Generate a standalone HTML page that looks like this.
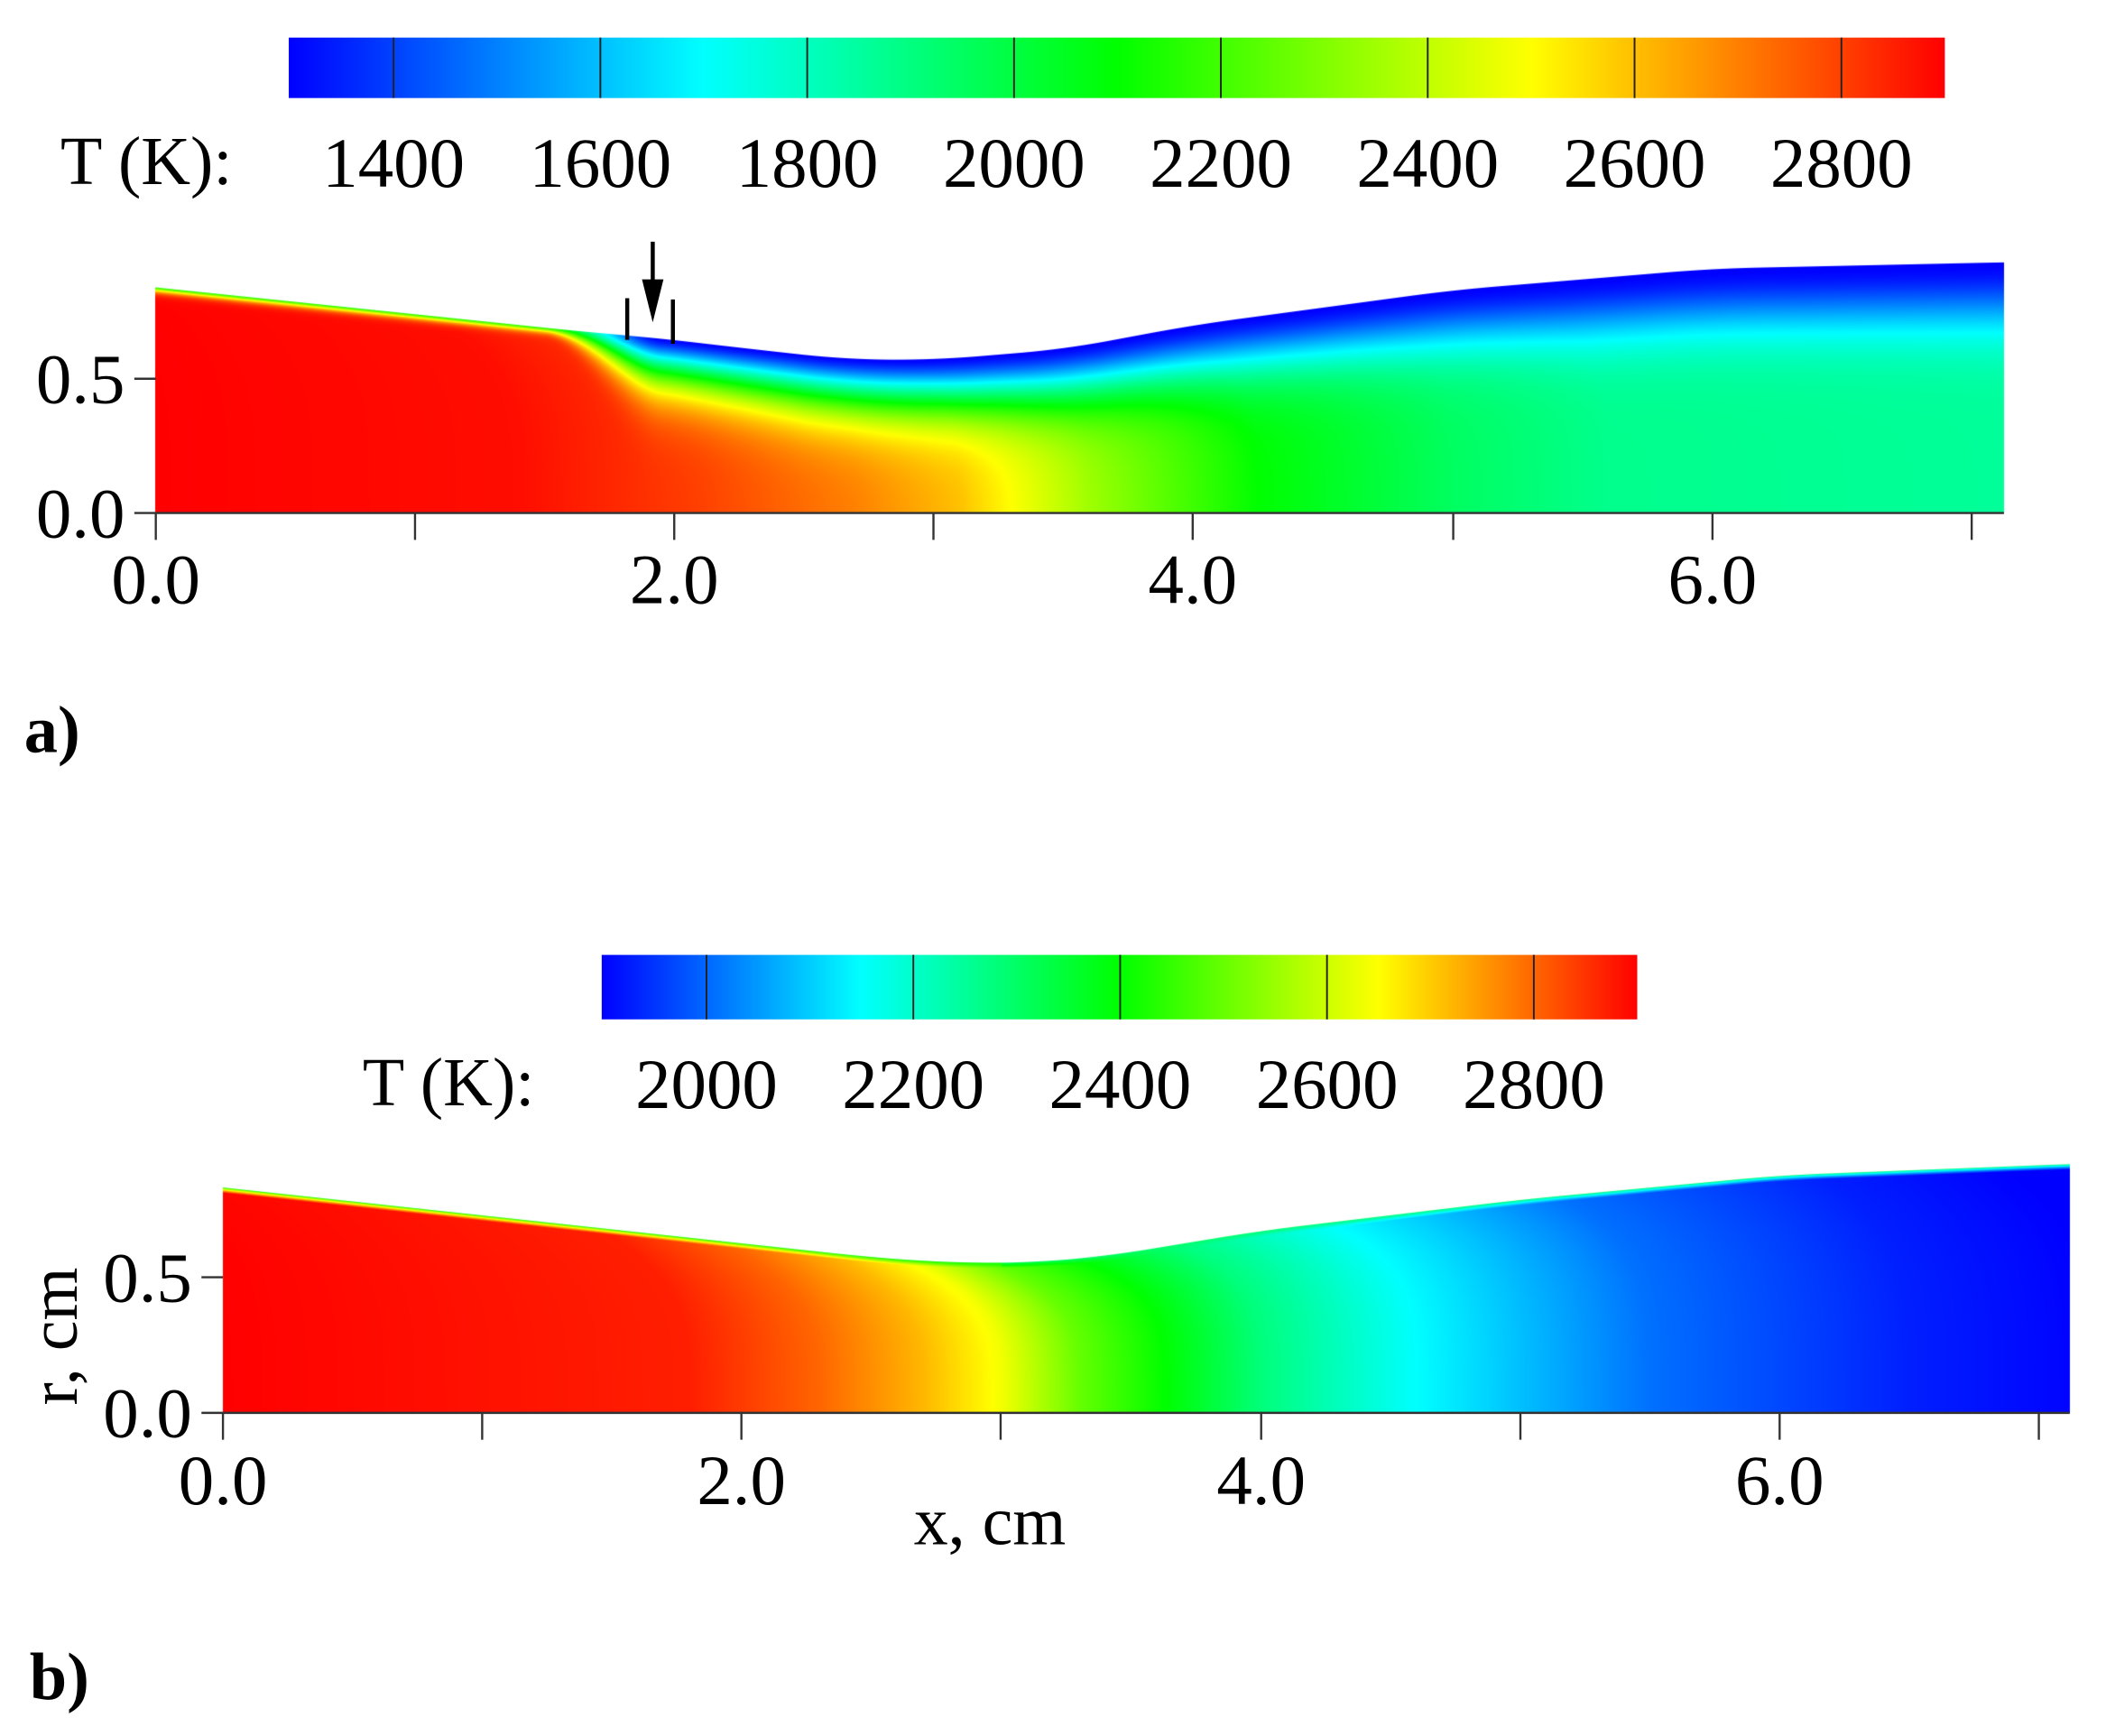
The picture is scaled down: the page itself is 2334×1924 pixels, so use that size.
<!DOCTYPE html>
<html><head><meta charset="utf-8">
<style>
html,body{margin:0;padding:0;background:#fff;}
#wrap{position:relative;width:2334px;height:1924px;overflow:hidden;}
canvas,svg{position:absolute;left:0;top:0;}
text{font-family:"Liberation Serif",serif;fill:#000;}
</style></head><body>
<div id="wrap">
<canvas id="c" width="2334" height="1924"></canvas>
<svg width="2334" height="1924" viewBox="0 0 1568 1292.6" preserveAspectRatio="none">
<defs>
<linearGradient id="cm" x1="0" x2="1" y1="0" y2="0">
<stop offset="0" stop-color="#0000ff"/><stop offset="0.25" stop-color="#00ffff"/>
<stop offset="0.5" stop-color="#00ff00"/><stop offset="0.75" stop-color="#ffff00"/>
<stop offset="1" stop-color="#ff0000"/></linearGradient>
</defs>
<rect x="215" y="28" width="1233" height="45" fill="url(#cm)"/>
<g stroke="#222" stroke-width="1.3">
<line x1="293" y1="28" x2="293" y2="73"/><line x1="447" y1="28" x2="447" y2="73"/>
<line x1="601" y1="28" x2="601" y2="73"/><line x1="755" y1="28" x2="755" y2="73"/>
<line x1="909" y1="28" x2="909" y2="73"/><line x1="1063" y1="28" x2="1063" y2="73"/>
<line x1="1217" y1="28" x2="1217" y2="73"/><line x1="1371" y1="28" x2="1371" y2="73"/>
</g>
<g font-size="53" text-anchor="middle">
<text x="293" y="139">1400</text><text x="447" y="139">1600</text><text x="601" y="139">1800</text>
<text x="755" y="139">2000</text><text x="909" y="139">2200</text><text x="1063" y="139">2400</text>
<text x="1217" y="139">2600</text><text x="1371" y="139">2800</text>
</g>
<text x="45" y="137" font-size="51">T (K):</text>
<g stroke="#333" stroke-width="1.6">
<line x1="116" y1="382" x2="1492" y2="382"/>
<line x1="116" y1="382" x2="116" y2="402"/><line x1="309" y1="382" x2="309" y2="402"/>
<line x1="502" y1="382" x2="502" y2="402"/><line x1="695" y1="382" x2="695" y2="402"/>
<line x1="888" y1="382" x2="888" y2="402"/><line x1="1082" y1="382" x2="1082" y2="402"/>
<line x1="1275" y1="382" x2="1275" y2="402"/><line x1="1468" y1="382" x2="1468" y2="402"/>
<line x1="100" y1="382" x2="116" y2="382"/><line x1="100" y1="282" x2="116" y2="282"/>
</g>
<g font-size="53" text-anchor="middle">
<text x="116" y="449">0.0</text><text x="502" y="449">2.0</text><text x="888" y="449">4.0</text><text x="1275" y="449">6.0</text>
</g>
<g font-size="53" text-anchor="end">
<text x="93" y="300">0.5</text><text x="93" y="400">0.0</text>
</g>
<g stroke="#000" stroke-width="3">
<line x1="486" y1="180" x2="486" y2="215"/>
<line x1="467" y1="222" x2="467" y2="253"/><line x1="501" y1="223" x2="501" y2="256"/>
</g>
<polygon points="478,208 494,208 486,240" fill="#000"/>
<text x="18" y="560" font-size="50" font-weight="bold">a)</text>
<rect x="448" y="711" width="771" height="48" fill="url(#cm)"/>
<g stroke="#222" stroke-width="1.3">
<line x1="526" y1="711" x2="526" y2="759"/><line x1="680" y1="711" x2="680" y2="759"/>
<line x1="834" y1="711" x2="834" y2="759"/><line x1="988" y1="711" x2="988" y2="759"/>
<line x1="1142" y1="711" x2="1142" y2="759"/>
</g>
<g font-size="53" text-anchor="middle">
<text x="526" y="825">2000</text><text x="680" y="825">2200</text><text x="834" y="825">2400</text>
<text x="988" y="825">2600</text><text x="1142" y="825">2800</text>
</g>
<text x="270" y="823" font-size="51">T (K):</text>
<g stroke="#333" stroke-width="1.6">
<line x1="166" y1="1052" x2="1541" y2="1052"/>
<line x1="166" y1="1052" x2="166" y2="1072"/><line x1="359" y1="1052" x2="359" y2="1072"/>
<line x1="552" y1="1052" x2="552" y2="1072"/><line x1="745" y1="1052" x2="745" y2="1072"/>
<line x1="939" y1="1052" x2="939" y2="1072"/><line x1="1132" y1="1052" x2="1132" y2="1072"/>
<line x1="1325" y1="1052" x2="1325" y2="1072"/><line x1="1518" y1="1052" x2="1518" y2="1072"/>
<line x1="150" y1="1052" x2="166" y2="1052"/><line x1="150" y1="951" x2="166" y2="951"/>
</g>
<g font-size="53" text-anchor="middle">
<text x="166" y="1120">0.0</text><text x="552" y="1120">2.0</text><text x="939" y="1120">4.0</text><text x="1325" y="1120">6.0</text>
</g>
<g font-size="53" text-anchor="end">
<text x="143" y="969">0.5</text><text x="143" y="1070">0.0</text>
</g>
<text x="737" y="1150" font-size="51" text-anchor="middle">x, cm</text>
<text x="0" y="0" font-size="51" text-anchor="middle" transform="translate(57,995) rotate(-90)">r, cm</text>
<text x="22" y="1265" font-size="50" font-weight="bold">b)</text>
</svg>
</div>
<script>
(function(){
var S=2334/1568;
var cv=document.getElementById('c'),ctx=cv.getContext('2d');
var W=2334,H=1924;
var img=ctx.createImageData(W,H),d=img.data;
for(var i=0;i<d.length;i+=4){d[i]=255;d[i+1]=255;d[i+2]=255;d[i+3]=255;}
function cmap(t){t=Math.max(0,Math.min(1,t));var r,g,b;
 if(t<0.25){r=0;g=t/0.25;b=1;}else if(t<0.5){r=0;g=1;b=1-(t-0.25)/0.25;}
 else if(t<0.75){r=(t-0.5)/0.25;g=1;b=0;}else{r=1;g=1-(t-0.75)/0.25;b=0;}
 return [r*255,g*255,b*255];}
function interp(pts,x){if(x<=pts[0][0])return pts[0][1];
 for(var i=1;i<pts.length;i++){if(x<=pts[i][0]){var a=pts[i-1],b=pts[i];return a[1]+(b[1]-a[1])*(x-a[0])/(b[0]-a[0]);}}
 return pts[pts.length-1][1];}
function sinterp(pts,x){var s=0,n=0;for(var k=-4;k<=4;k++){s+=interp(pts,x+k*0.04);n++;}return s/n;}
function cl(v){return Math.max(0,Math.min(1,v));}
var wA=[[0,.84],[1.7,.67],[1.9,.655],[2.3,.61],[2.66,.572],[3.0,.57],[3.5,.61],[4,.70],[5,.83],[6,.91],[7.2,.935]];
function wallA(x){return x<1.5?interp(wA,x):sinterp(wA,x);}
var coreA=[[0,2900],[1.4,2880],[2.1,2800],[2.7,2700],[3.1,2600],[3.3,2500],[3.6,2350],[4.25,2100],[5.0,1950],[5.6,1880],[7.2,1860]];
var dA=[[1.8,0.26],[2.5,0.3],[4.6,0.35],[6,0.4],[7.2,0.42]];
var pA=[[1.8,0.9],[2.5,0.9],[4.6,1.1],[6,1.3],[7.2,1.3]];
function TA(x,r){var w=wallA(x);var q=r/w;var xe=x+0.3*Math.pow(q,4);var Tc=interp(coreA,xe);
 var dd=w-r;
 var f=cl((x-1.5)/0.45);f=f*f*(3-2*f);
 var delta=0.03*(1-f)+f*interp(dA,x);
 var Tw=2150*(1-f)+1300*f;
 var p=interp(pA,x)*f+0.8*(1-f)+0.6;
 var s=dd/delta;
 var g=1-Math.exp(-Math.pow(1.8*s,p));
 return Tw+(Tc-Tw)*g;}
var wB=[[0,.835],[2.5,.576],[2.7,.562],[2.9,.555],[3.1,.556],[3.4,.58],[4,.675],[5,.79],[6,.88],[7.2,.925]];
function wallB(x){return x<2.2?interp(wB,x):sinterp(wB,x);}
var coreB=[[0,2900],[1.8,2870],[2.3,2800],[2.7,2720],[3.0,2640],[3.3,2500],[3.6,2410],[4.0,2280],[4.6,2150],[5.5,2010],[6.5,1930],[7.2,1900]];
function TB(x,r){var w=wallB(x);var q=r/w;var xe=x+0.35*Math.pow(q,4);var Tc=interp(coreB,xe);
 var dd=w-r;var delta=0.02;var Tw=x<3?2400:2300;
 var g=Math.pow(cl(dd/delta),0.8);return Tw+(Tc-Tw)*g;}
function draw(x0,x1,y0axis,pxcm,pycm,Tf,Tmin,Tmax,wall){
 var X0=Math.floor(x0*S),X1=Math.ceil(x1*S);
 for(var X=X0;X<X1;X++){var xd=(X+0.5)/S;var xc=(xd-x0)/pxcm;var w=wall(xc);
  var ytop=(y0axis-w*pycm)*S;var Ybot=Math.round(y0axis*S);
  for(var Y=Math.floor(ytop);Y<Ybot;Y++){var yd=(Y+0.5)/S;var r=(y0axis-yd)/pycm;
   var cov=1;if(Y<ytop){cov=Y+1-ytop;}
   if(r<0)r=0;if(r>w)r=w;
   var T=Tf(xc,r);var c=cmap((T-Tmin)/(Tmax-Tmin));var k=(Y*W+X)*4;
   d[k]=255+(c[0]-255)*cov;d[k+1]=255+(c[1]-255)*cov;d[k+2]=255+(c[2]-255)*cov;}
 }}
draw(116,1492,382,193.2,200,TA,1300,2900,wallA);
draw(166,1541,1052,193.3,201,TB,1900,2900,wallB);
ctx.putImageData(img,0,0);
})();
</script>
</body></html>
